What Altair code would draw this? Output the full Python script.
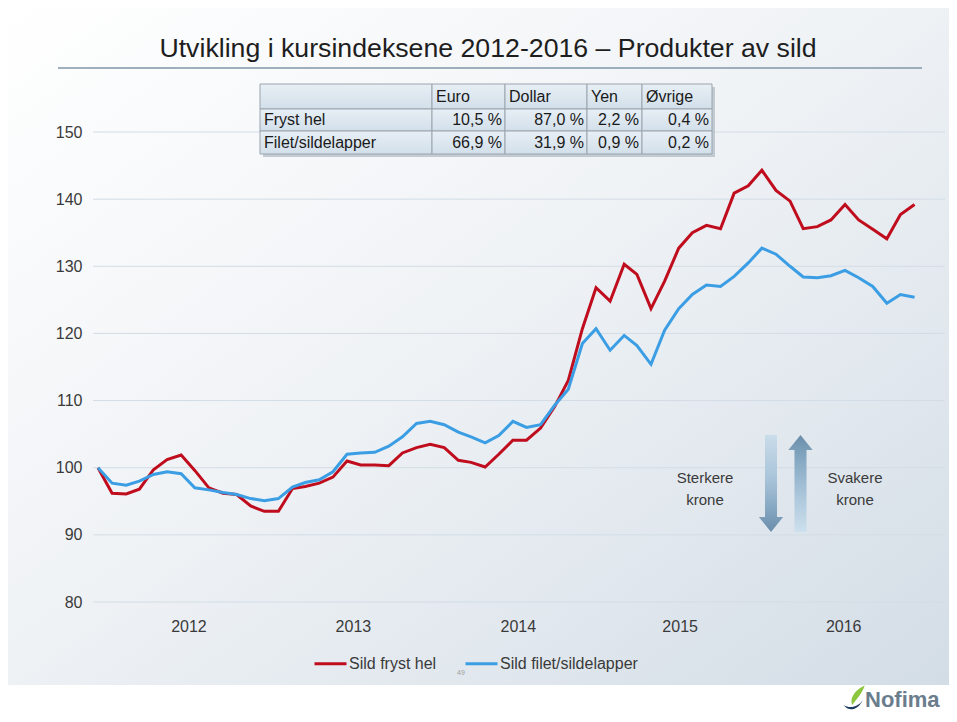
import altair as alt
import pandas as pd

# ---------------- data ----------------
months = [f"{2011 + (11 + i) // 12}-{(11 + i) % 12 + 1:02d}-01T00:00:00" for i in range(60)]

sild_fryst_hel = [
    100.0, 96.2, 96.1, 96.8, 99.7, 101.2, 101.9, 99.6, 97.0, 96.2,
    96.0, 94.3, 93.5, 93.5, 96.9, 97.2, 97.7, 98.6, 101.0, 100.4,
    100.4, 100.3, 102.2, 103.0, 103.5, 103.0, 101.1, 100.8, 100.1, 102.0,
    104.1, 104.1, 105.9, 109.1, 113.0, 120.7, 126.8, 124.8, 130.3, 128.8,
    123.7, 127.8, 132.7, 135.0, 136.1, 135.6, 140.9, 142.0, 144.3, 141.3,
    139.7, 135.6, 135.9, 136.9, 139.2, 136.9, 135.5, 134.1, 137.7, 139.2,
]
sild_filet = [
    100.0, 97.7, 97.4, 98.0, 99.0, 99.4, 99.1, 97.0, 96.7, 96.3,
    96.0, 95.4, 95.1, 95.4, 97.1, 97.8, 98.2, 99.4, 102.0, 102.2,
    102.3, 103.2, 104.6, 106.6, 106.9, 106.4, 105.3, 104.6, 103.7, 104.8,
    106.9, 106.0, 106.4, 109.3, 111.7, 118.5, 120.7, 117.5, 119.7, 118.2,
    115.4, 120.5, 123.7, 125.8, 127.2, 127.0, 128.5, 130.5, 132.7, 131.8,
    130.0, 128.4, 128.3, 128.6, 129.4, 128.3, 127.0, 124.5, 125.8, 125.4,
]
series_names = ["Sild fryst hel", "Sild filet/sildelapper"]
series_colors = ["#c00d1e", "#3b9ee4"]

y_ticks = [80, 90, 100, 110, 120, 130, 140, 150]
year_labels = [2012, 2013, 2014, 2015, 2016]

table_header = ["", "Euro", "Dollar", "Yen", "Øvrige"]
table_rows = ["Fryst hel", "Filet/sildelapper"]
share_fryst = ["10,5 %", "87,0 %", "2,2 %", "0,4 %"]
share_filet = ["66,9 %", "31,9 %", "0,9 %", "0,2 %"]

title_text = "Utvikling i kursindeksene 2012-2016 \u2013 Produkter av sild"

# ---------------- layout (page pixels) ----------------
OX, OY = 93, 132          # plot origin on page
PW, PH = 852, 470
FONT = "Liberation Sans, Arial, sans-serif"
TXT = "#3a3a3a"

def px(v):
    return v - OX

def py(v):
    return v - OY

TAB_X = [260, 432, 505, 587, 642, 712]
TAB_Y = [84, 109, 131, 154]
# where the year labels sit (month, day) within each year
YEAR_LABEL_POS = [(6, 17), (6, 14), (6, 12), (6, 3), (5, 28)]

# ---------------- tables ----------------
lines_df = pd.DataFrame({
    "date": months * 2,
    "value": sild_fryst_hel + sild_filet,
    "series": [series_names[0]] * 60 + [series_names[1]] * 60,
})
grid_df = pd.DataFrame({"tick": y_ticks})

table_cells = [table_header, [table_rows[0]] + share_fryst, [table_rows[1]] + share_filet]
cell_rows = []
for r, row in enumerate(table_cells):
    for c, label in enumerate(row):
        left = (r == 0) or (c == 0)
        x0, x1 = px(TAB_X[c]), px(TAB_X[c + 1])
        y0, y1 = py(TAB_Y[r]), py(TAB_Y[r + 1])
        cell_rows.append({
            "x0": x0, "x1": x1, "y0": y0, "y1": y1,
            "tx": x0 + 4 if left else x1 - 3,
            "ty": (y0 + y1) / 2,
            "label": label, "left": left,
        })
cells_df = pd.DataFrame(cell_rows)

one = pd.DataFrame({"k": [0]})

def grad(stops, x2=0, y2=1):
    return alt.Gradient(
        gradient="linear",
        stops=[alt.GradientStop(offset=o, color=c) for o, c in stops],
        x1=0, y1=0, x2=x2, y2=y2,
    )

y_scale = alt.Scale(domain=[80, 150], nice=False, zero=False)

def y_axis():
    return alt.Axis(values=y_ticks, grid=False, domain=False, ticks=False,
                    title=None, labelPadding=11, zindex=2,
                    labelFont=FONT, labelFontSize=16, labelColor=TXT)

# ---------------- layers ----------------
background = alt.Chart(one).mark_rect(
    color=grad([(0, "#ffffff"), (0.45, "#f0f3f6"), (1, "#d3dde6")], x2=1, y2=1)
).encode(
    x=alt.value(-85), x2=alt.value(856), y=alt.value(-124), y2=alt.value(py(685))
)

gridlines = alt.Chart(grid_df).mark_rule(color="#d3dce5", strokeWidth=1).encode(
    y=alt.Y("tick:Q", scale=y_scale, axis=y_axis()),
    x=alt.value(0), x2=alt.value(PW),
)

title = alt.Chart(one).mark_text(
    text=title_text, font=FONT, fontSize=26.7, color="#1e1e1e",
    align="center", baseline="middle",
).encode(x=alt.value(px(488)), y=alt.value(py(49)))

underline = alt.Chart(one).mark_rule(color="#8196a8", strokeWidth=1.5).encode(
    x=alt.value(px(58)), x2=alt.value(px(922)), y=alt.value(py(68))
)

shadow = alt.Chart(one).mark_rect(color="#aeb9c3", opacity=0.7).encode(
    x=alt.value(px(TAB_X[0] + 3)), x2=alt.value(px(TAB_X[-1] + 3)),
    y=alt.value(py(TAB_Y[0] + 3)), y2=alt.value(py(TAB_Y[-1] + 3)),
)

cells = alt.Chart(cells_df).mark_rect(
    color=grad([(0, "#e8eff5"), (1, "#d2dfea")]), stroke="#9aa4ad", strokeWidth=1
).encode(
    x=alt.X("x0:Q", scale=None, axis=None), x2="x1:Q",
    y=alt.Y("y0:Q", scale=None, axis=None), y2="y1:Q",
)

cell_text_left = alt.Chart(cells_df).transform_filter("datum.left").mark_text(
    align="left", baseline="middle", font=FONT, fontSize=16, color="#1a1a1a"
).encode(
    x=alt.X("tx:Q", scale=None, axis=None), y=alt.Y("ty:Q", scale=None, axis=None),
    text="label:N",
)
cell_text_right = alt.Chart(cells_df).transform_filter("!datum.left").mark_text(
    align="right", baseline="middle", font=FONT, fontSize=16, color="#1a1a1a"
).encode(
    x=alt.X("tx:Q", scale=None, axis=None), y=alt.Y("ty:Q", scale=None, axis=None),
    text="label:N",
)

lines = alt.Chart(lines_df).mark_line(strokeWidth=3).encode(
    x=alt.X(
        "date:T",
        scale=alt.Scale(domain=[alt.DateTime(year=2011, month=11, date=20),
                                alt.DateTime(year=2017, month=1, date=7)]),
        axis=alt.Axis(
            values=[alt.DateTime(year=y, month=m, date=d)
                    for y, (m, d) in zip(year_labels, YEAR_LABEL_POS)],
            format="%Y", grid=False, domain=False, ticks=False, title=None,
            labelPadding=16, labelFlush=False, zindex=2,
            labelFont=FONT, labelFontSize=16, labelColor=TXT,
        ),
    ),
    y=alt.Y("value:Q", scale=y_scale, axis=y_axis()),
    color=alt.Color(
        "series:N",
        scale=alt.Scale(domain=series_names, range=series_colors),
        legend=alt.Legend(
            orient="none", legendX=px(313), legendY=py(646), direction="horizontal",
            title=None, symbolType="stroke", symbolSize=1024, symbolStrokeWidth=3,
            labelFont=FONT, labelFontSize=16, labelColor=TXT, labelOffset=1,
            columnPadding=22, zindex=2,
        ),
    ),
)

ARROW_DOWN = "M-0.124,-1L0.124,-1L0.124,0.69L0.25,0.69L0,1L-0.25,0.69L-0.124,0.69Z"
ARROW_UP = "M-0.124,1L0.124,1L0.124,-0.69L0.25,-0.69L0,-1L-0.25,-0.69L-0.124,-0.69Z"

arrow_down = alt.Chart(one).mark_point(
    shape=ARROW_DOWN, size=97 * 97, filled=True, opacity=1, strokeWidth=0,
    color=grad([(0, "#c9dcea"), (0.45, "#a9c4d9"), (0.75, "#87a8c2"), (1, "#6a8daa")]),
).encode(x=alt.value(px(771)), y=alt.value(py(483.5)))

arrow_up = alt.Chart(one).mark_point(
    shape=ARROW_UP, size=97 * 97, filled=True, opacity=1, strokeWidth=0,
    color=grad([(0, "#6a8daa"), (0.25, "#85a8c2"), (0.6, "#a9c4d9"), (1, "#cde0ee")]),
).encode(x=alt.value(px(800.5)), y=alt.value(py(483.5)))

sterkere = alt.Chart(one).mark_text(
    text="Sterkere\nkrone", lineBreak="\n", lineHeight=22, font=FONT, fontSize=15,
    color=TXT, align="center", baseline="middle",
).encode(x=alt.value(px(705)), y=alt.value(py(478)))

svakere = alt.Chart(one).mark_text(
    text="Svakere\nkrone", lineBreak="\n", lineHeight=22, font=FONT, fontSize=15,
    color=TXT, align="center", baseline="middle",
).encode(x=alt.value(px(855)), y=alt.value(py(478)))

page_no = alt.Chart(one).mark_text(
    text="49", font=FONT, fontSize=7, color="#a0a0a0", align="center", baseline="middle"
).encode(x=alt.value(px(461)), y=alt.value(py(673)))

logo_text = alt.Chart(one).mark_text(
    text="Nofima", font=FONT, fontSize=22, fontWeight="bold", color="#6a7d8c",
    align="left", baseline="middle",
).encode(x=alt.value(px(865)), y=alt.value(py(700)))

LEAF = "M0.7,-1C0.1,-0.75-0.55,-0.1-0.3,0.55C0.05,0.1,0.5,-0.4,0.7,-1Z"
SWOOSH = "M-1,0.55C-0.6,1.1,0.15,1.0,0.55,0.15C0.15,0.75-0.5,0.85-1,0.55Z"
logo_leaf = alt.Chart(one).mark_point(
    shape=LEAF, size=625, filled=True, color="#8cc63e", opacity=1, strokeWidth=0
).encode(x=alt.value(px(856)), y=alt.value(py(698)))
logo_swoosh = alt.Chart(one).mark_point(
    shape=SWOOSH, size=625, filled=True, color="#1d3a5f", opacity=1, strokeWidth=0
).encode(x=alt.value(px(856)), y=alt.value(py(698)))

chart = alt.layer(
    background, gridlines, title, underline, shadow, cells, cell_text_left,
    cell_text_right, lines, arrow_down, arrow_up, sterkere, svakere, page_no,
    logo_leaf, logo_swoosh, logo_text,
).properties(
    width=PW, height=PH,
    autosize=alt.AutoSizeParams(type="none"),
    padding={"left": 85, "top": 124, "right": 4, "bottom": 110},
    background="#ffffff",
).configure_view(
    stroke=None
)

chart.save("out.html", embed_options={"renderer": "svg", "actions": False})
